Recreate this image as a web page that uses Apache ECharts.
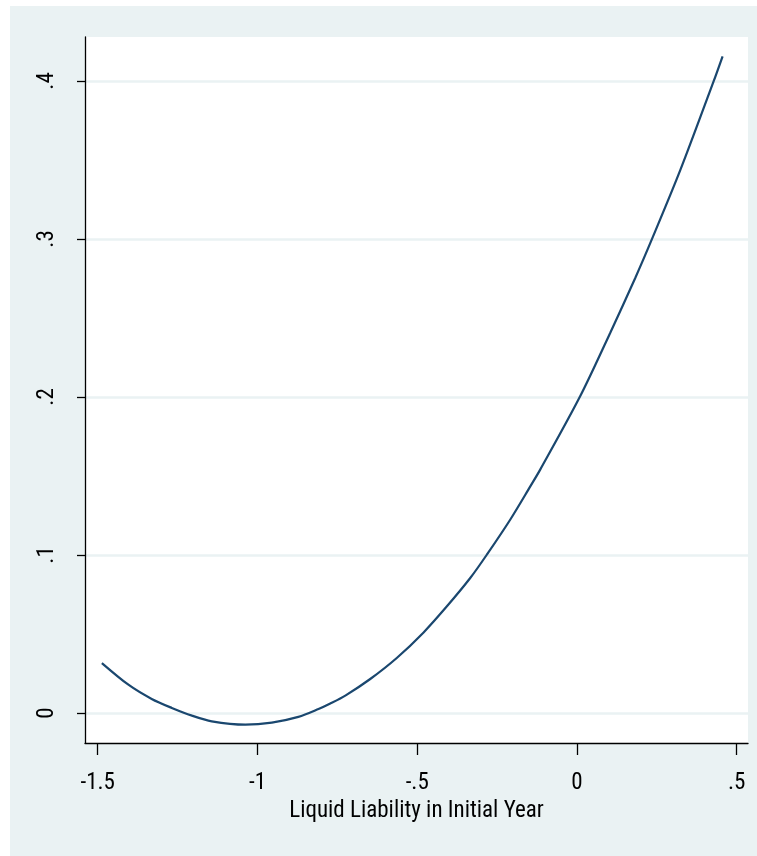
<!DOCTYPE html>
<html>
<head>
<meta charset="utf-8">
<script src="https://cdn.jsdelivr.net/npm/echarts@6/dist/echarts.min.js"></script>
<style>
  html, body { margin: 0; padding: 0; background: #ffffff; }
  #chart { position: absolute; left: 10px; top: 6px; width: 747px; height: 850px; background: #EAF2F3; }
</style>
</head>
<body>
<div id="chart"></div>
<script>
// Data
const xValues = [-1.487, -1.404, -1.331, -1.268, -1.205, -1.143, -1.038, -0.955, -0.872, -0.809, -0.772, -0.725, -0.647, -0.564, -0.480, -0.407, -0.334, -0.282, -0.209, -0.146, -0.115, 0.010, 0.104, 0.1825, 0.235, 0.3234, 0.4277, 0.4559];
const yValues = [0.0316, 0.0179, 0.0089, 0.0032, -0.0017, -0.0053, -0.0074, -0.0061, -0.0025, 0.0025, 0.0060, 0.0110, 0.0215, 0.0348, 0.0510, 0.0675, 0.0854, 0.1002, 0.1223, 0.1434, 0.1540, 0.2004, 0.2405, 0.2753, 0.3000, 0.3435, 0.3997, 0.4156];
const xTicks = [-1.5, -1, -0.5, 0, 0.5];
const xTickLabels = ['-1.5', '-1', '-.5', '0', '.5'];
const yTicks = [0, 0.1, 0.2, 0.3, 0.4];
const yTickLabels = ['0', '.1', '.2', '.3', '.4'];
const xTitle = 'Liquid Liability in Initial Year';

const FONT = '"Roboto Condensed", "Liberation Sans", Arial, sans-serif';
const FS = 23;
const chart = echarts.init(document.getElementById('chart'), null, { renderer: 'canvas' });

function fmt(ticks, labels) {
  return function (v) {
    for (let i = 0; i < ticks.length; i++) if (Math.abs(ticks[i] - v) < 1e-9) return labels[i];
    return '';
  };
}

chart.setOption({
  backgroundColor: 'transparent',
  animation: false,
  grid: { left: 75, top: 31, right: 9, bottom: 113, containLabel: false,
          show: true, backgroundColor: '#ffffff', borderWidth: 0 },
  xAxis: {
    type: 'value',
    min: -1.5398, max: 0.5354,
    name: xTitle, nameLocation: 'middle', nameGap: 55,
    nameTextStyle: { fontFamily: FONT, fontSize: FS, color: '#000' },
    axisLine: { show: true, onZero: false, lineStyle: { color: '#000', width: 1.3 } },
    axisTick: { show: true, length: 12, customValues: xTicks, lineStyle: { color: '#000', width: 1.3 } },
    axisLabel: { customValues: xTicks, formatter: fmt(xTicks, xTickLabels), margin: 29,
                 fontFamily: FONT, fontSize: FS, color: '#000' },
    splitLine: { show: false }
  },
  yAxis: {
    type: 'value',
    min: -0.019, max: 0.4278,
    axisLine: { show: true, onZero: false, lineStyle: { color: '#000', width: 1.3 } },
    axisTick: { show: true, length: 8, customValues: yTicks, lineStyle: { color: '#000', width: 1.3 } },
    axisLabel: { customValues: yTicks, formatter: fmt(yTicks, yTickLabels), rotate: 90, margin: 26,
                 fontFamily: FONT, fontSize: FS, color: '#000' },
    splitLine: { show: true, lineStyle: { color: '#EAF2F3', width: 2.5 } }
  },
  series: [{
    type: 'line',
    data: xValues.map((x, i) => [x, yValues[i]]),
    showSymbol: false,
    smooth: 0.3,
    lineStyle: { color: '#1A476F', width: 2.2 },
    z: 3
  }]
});
</script>
</body>
</html>
